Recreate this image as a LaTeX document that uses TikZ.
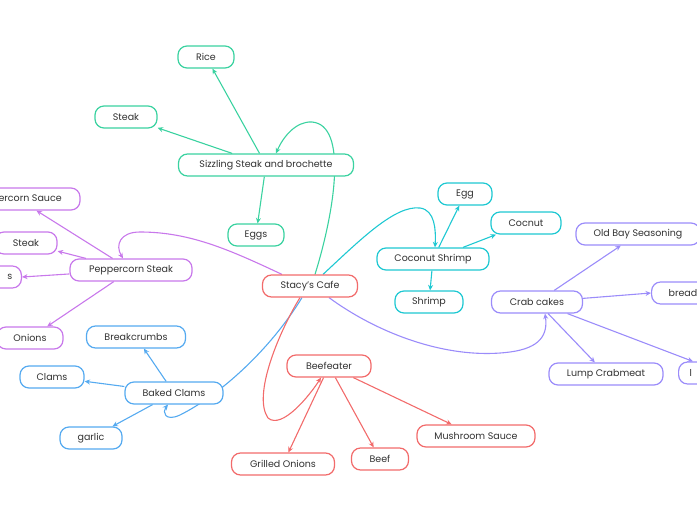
\documentclass[tikz,border=0pt]{standalone}
\usepackage{fontspec}
\setmainfont{Poppins}
\usetikzlibrary{arrows.meta,backgrounds,calc}
\definecolor{cred}{RGB}{242,107,107}
\definecolor{cgreen}{RGB}{58,210,160}
\definecolor{cteal}{RGB}{30,200,210}
\definecolor{cpurp}{RGB}{200,120,235}
\definecolor{clav}{RGB}{155,140,250}
\definecolor{cblue}{RGB}{85,170,240}
\definecolor{ctext}{RGB}{50,50,50}
\tikzset{
  box/.style={draw=#1, fill=white, rounded corners=9pt, line width=1.2pt,
    minimum height=22pt, inner xsep=6pt, inner ysep=0pt, text=ctext,
    font=\fontsize{9.5}{11}\selectfont},
  link/.style={draw=#1, line width=1.1pt, -{Stealth[length=5.5pt,width=5pt]}},
}
\begin{document}
\begin{tikzpicture}[x=1pt,y=-1pt]
\useasboundingbox (0,0) rectangle (697,520);
% root
\node[box=cred, minimum width=95] (cafe) at (310,286) {Stacy's Cafe};
% green branch
\node[box=cgreen, minimum width=175] (sizz) at (266,165) {Sizzling Steak and brochette};
\node[box=cgreen, minimum width=56] (rice) at (206,57) {Rice};
\node[box=cgreen, minimum width=62] (gsteak) at (126,117) {Steak};
\node[box=cgreen, minimum width=56] (eggs) at (256,235) {Eggs};
% purple branch
\node[box=cpurp, minimum width=122] (pstk) at (131,270) {Peppercorn Steak};
\node[box=cpurp, minimum width=124] (psauce) at (18,199) {Peppercorn Sauce};
\node[box=cpurp, minimum width=62] (psteak) at (26,243) {Steak};
\node[box=cpurp, anchor=east, text width=40pt, align=right, inner xsep=9pt] (ps) at (22,277) {s};
\node[box=cpurp, minimum width=66] (ponion) at (30,338) {Onions};
% teal branch
\node[box=cteal, minimum width=112] (cshr) at (433,259) {Coconut Shrimp};
\node[box=cteal, minimum width=54] (egg) at (465,194) {Egg};
\node[box=cteal, minimum width=70] (cocnut) at (526,223) {Cocnut};
\node[box=cteal, minimum width=68] (shrimp) at (429,302) {Shrimp};
% lavender branch
\node[box=clav, minimum width=91] (crab) at (537,302) {Crab cakes};
\node[box=clav, minimum width=124] (obay) at (638,234) {Old Bay Seasoning};
\node[box=clav, anchor=west, text width=60pt, align=left, inner xsep=17pt] (bread) at (651,293) {bread};
\node[box=clav, minimum width=114] (lump) at (606,374) {Lump Crabmeat};
\node[box=clav, anchor=west, text width=40pt, align=left, inner xsep=11pt] (lnode) at (678,373) {l};
% blue branch
\node[box=cblue, minimum width=98] (bclam) at (174,393) {Baked Clams};
\node[box=cblue, minimum width=99] (bcrumb) at (136,337) {Breakcrumbs};
\node[box=cblue, minimum width=64] (clams) at (52,377) {Clams};
\node[box=cblue, minimum width=62] (garlic) at (91,438) {garlic};
% red branch
\node[box=cred, minimum width=84] (beef) at (329,366) {Beefeater};
\node[box=cred, minimum width=103] (gonion) at (283,464) {Grilled Onions};
\node[box=cred, minimum width=57] (beefb) at (380,459) {Beef};
\node[box=cred, minimum width=118] (mush) at (476,436) {Mushroom Sauce};

\begin{pgfonlayer}{background}
% main curves
\draw[link=cgreen] ($(cafe.north)+(5,0)$) .. controls (335,210) and (348,125) .. (312,122)
   .. controls (296,121) and (283,137) .. ($(sizz.north)+(10,0)$);
\draw[link=cpurp] ($(cafe.north)+(-28,0)$) .. controls (230,250) and (190,232) .. (140,232)
   .. controls (120,232) and (115,245) .. ($(pstk.north)+(-8,0)$);
\draw[link=cteal] ($(cafe.north)+(13,0)$) .. controls (360,240) and (395,205) .. (420,208)
   .. controls (435,210) and (436,230) .. ($(cshr.north)+(2,0)$);
\draw[link=clav] ($(cafe.south)+(19,0)$) .. controls (380,335) and (450,360) .. (510,352)
   .. controls (540,348) and (548,335) .. ($(crab.south)+(8,0)$);
\draw[link=cblue] ($(cafe.south)+(-8,0)$) .. controls (270,350) and (220,395) .. (180,415)
   .. controls (165,422) and (162,412) .. ($(bclam.south)+(-6,0)$);
\draw[link=cred] ($(cafe.south)+(-10,0)$) .. controls (280,330) and (252,395) .. (268,418)
   .. controls (282,430) and (310,395) .. ($(beef.south)+(-8,0)$);
% children
\foreach \a/\b in {sizz/rice, sizz/gsteak, sizz/eggs}
  \draw[link=cgreen] (\a) -- (\b);
\foreach \a/\b in {pstk/psauce, pstk/psteak, pstk/ponion}
  \draw[link=cpurp] (\a) -- (\b);
\draw[link=cpurp] (pstk) -- (ps.east);
\foreach \a/\b in {cshr/egg, cshr/cocnut, cshr/shrimp}
  \draw[link=cteal] (\a) -- (\b);
\foreach \a/\b in {crab/obay, crab/lump}
  \draw[link=clav] (\a) -- (\b);
\draw[link=clav] (crab) -- (bread.west);
\draw[link=clav] (crab) -- ($(lnode.north west)+(15,0)$);
\foreach \a/\b in {bclam/bcrumb, bclam/clams, bclam/garlic}
  \draw[link=cblue] (\a) -- (\b);
\foreach \a/\b in {beef/gonion, beef/beefb, beef/mush}
  \draw[link=cred] (\a) -- (\b);
\end{pgfonlayer}
\end{tikzpicture}
\end{document}
